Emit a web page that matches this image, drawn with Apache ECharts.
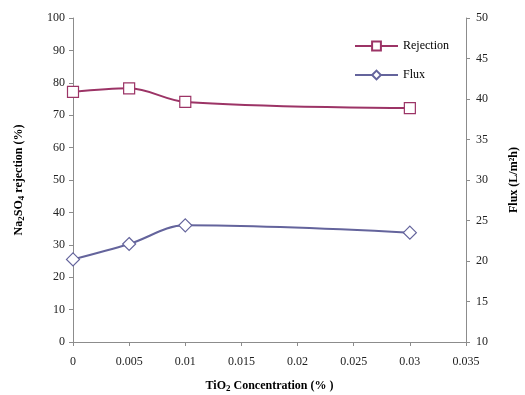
<!DOCTYPE html>
<html>
<head>
<meta charset="utf-8">
<script src="https://cdn.jsdelivr.net/npm/echarts@6/dist/echarts.min.js"></script>
<style>
  html, body { margin: 0; padding: 0; background: #fff; }
  #chart { width: 525px; height: 395px; }
</style>
</head>
<body>
<div id="chart"></div>
<script>
// TiO2 concentration (%) for each membrane sample
const concentration = [0, 0.005, 0.01, 0.03];
// Na2SO4 rejection (%) — left axis
const rejection = [77.2, 78.3, 74.1, 72.2];
// Permeate flux (L/m2h) — right axis
const flux = [20.2, 22.1, 24.4, 23.5];

const seriesNames = ['Rejection', 'Flux'];

const FONT = '"Liberation Serif", "Times New Roman", serif';
const AXIS_COLOR = '#8c8c8c';
const LABEL_COLOR = '#222';

const pairs = (xs, ys) => xs.map((x, i) => [x, ys[i]]);

const chart = echarts.init(document.getElementById('chart'), null, { renderer: 'canvas' });

const axisCommon = {
  axisLine: { show: true, lineStyle: { color: AXIS_COLOR, width: 1 } },
  axisTick: { show: true, inside: false, length: 4, lineStyle: { color: AXIS_COLOR } },
  splitLine: { show: false },
  axisLabel: { fontFamily: FONT, fontSize: 12, color: LABEL_COLOR }
};

const richName = {
  b: { fontFamily: FONT, fontSize: 12, fontWeight: 'bold', color: '#000', lineHeight: 16 },
  s: { fontFamily: FONT, fontSize: 9, fontWeight: 'bold', color: '#000', lineHeight: 16, padding: [6, 0, 0, 0] }
};

chart.setOption({
  animation: false,
  backgroundColor: '#fff',
  grid: { left: 73, right: 59, top: 18, bottom: 53, containLabel: false, outerBoundsMode: 'none' },
  legend: {
    orient: 'vertical',
    left: 349,
    top: 35,
    itemWidth: 43,
    itemHeight: 11,
    itemGap: 17,
    data: seriesNames,
    textStyle: { fontFamily: FONT, fontSize: 12, color: '#000' }
  },
  xAxis: Object.assign({}, axisCommon, {
    type: 'value',
    min: 0,
    max: 0.035,
    interval: 0.005,
    axisLabel: Object.assign({}, axisCommon.axisLabel, { margin: 14 }),
    name: '{b|TiO}{s|2}{b| Concentration (% )}',
    nameLocation: 'middle',
    nameGap: 36,
    nameTextStyle: { rich: richName }
  }),
  yAxis: [
    Object.assign({}, axisCommon, {
      type: 'value',
      min: 0,
      max: 100,
      interval: 10,
      position: 'left',
      name: '{b|Na}{s|2}{b|SO}{s|4}{b| rejection (%)}',
      nameLocation: 'middle',
      nameRotate: 90,
      nameGap: 46,
      nameTextStyle: { rich: richName }
    }),
    Object.assign({}, axisCommon, {
      type: 'value',
      min: 10,
      max: 50,
      interval: 5,
      position: 'right',
      axisLabel: Object.assign({}, axisCommon.axisLabel, { margin: 10 }),
      name: 'Flux (L/m²h)',
      nameLocation: 'middle',
      nameRotate: 90,
      nameGap: 42,
      nameTextStyle: { fontFamily: FONT, fontSize: 12, fontWeight: 'bold', color: '#000' }
    })
  ],
  series: [
    {
      name: seriesNames[0],
      type: 'line',
      yAxisIndex: 0,
      data: pairs(concentration, rejection),
      smooth: 0.35,
      symbol: 'rect',
      symbolSize: 11,
      lineStyle: { color: '#9c3466', width: 2 },
      itemStyle: { color: '#fff', borderColor: '#9c3466', borderWidth: 1.2 }
    },
    {
      name: seriesNames[1],
      type: 'line',
      yAxisIndex: 1,
      data: pairs(concentration, flux),
      smooth: 0.35,
      symbol: 'diamond',
      symbolSize: 13,
      lineStyle: { color: '#64649c', width: 2 },
      itemStyle: { color: '#fff', borderColor: '#64649c', borderWidth: 1.2 }
    }
  ]
});
</script>
</body>
</html>
